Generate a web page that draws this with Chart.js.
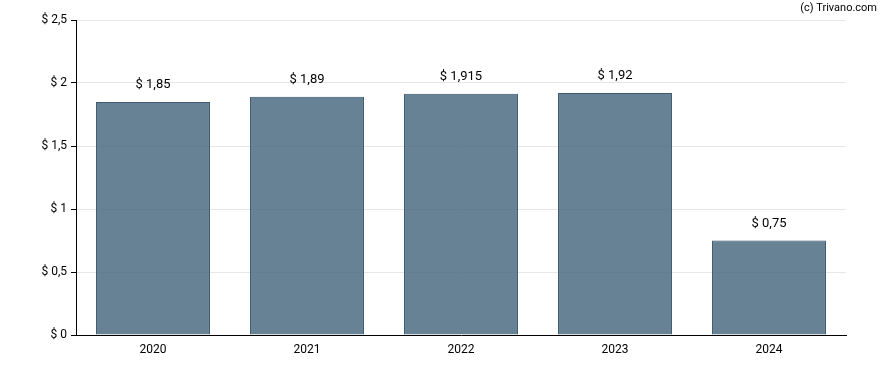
<!DOCTYPE html>
<html>
<head>
<meta charset="utf-8">
<script src="https://cdn.jsdelivr.net/npm/chart.js@4/dist/chart.umd.min.js"></script>
<style>
  html, body { margin: 0; padding: 0; background: #fff; }
  #wrap { width: 888px; height: 370px; position: relative; }
</style>
</head>
<body>
<div id="wrap"><canvas id="chart"></canvas></div>
<script>
// data
const years = ['2020', '2021', '2022', '2023', '2024'];
const dividends = [1.85, 1.89, 1.915, 1.92, 0.75];
const yTicks = [0, 0.5, 1, 1.5, 2, 2.5];

const fmt = v => '$ ' + String(v).replace('.', ',');

// value labels above the bars
const barLabels = {
  id: 'barLabels',
  afterDatasetsDraw(chart) {
    const ctx = chart.ctx;
    const meta = chart.getDatasetMeta(0);
    ctx.save();
    ctx.font = '13px Roboto';
    ctx.fillStyle = '#000';
    ctx.textAlign = 'center';
    ctx.textBaseline = 'middle';
    meta.data.forEach((bar, i) => {
      ctx.fillText(fmt(dividends[i]), bar.x, bar.y - 17);
    });
    ctx.restore();
  }
};

// copyright text top right
const credit = {
  id: 'credit',
  afterDraw(chart) {
    const ctx = chart.ctx;
    ctx.save();
    ctx.font = '11px Roboto';
    ctx.fillStyle = '#000';
    ctx.textAlign = 'right';
    ctx.textBaseline = 'middle';
    ctx.fillText('(c) Trivano.com', 877, 8);
    ctx.restore();
  }
};

new Chart(document.getElementById('chart'), {
  type: 'bar',
  data: {
    labels: years,
    datasets: [{
      data: dividends,
      backgroundColor: 'rgba(72, 105, 126, 0.83)',
      borderColor: '#3f5a6e',
      borderWidth: 1,
      barPercentage: 0.74,
      categoryPercentage: 1
    }]
  },
  options: {
    responsive: true,
    maintainAspectRatio: false,
    animation: false,
    layout: { padding: { top: 20, right: 42, left: 0, bottom: 0 } },
    plugins: { legend: { display: false }, tooltip: { enabled: false } },
    scales: {
      x: {
        grid: { display: false, drawOnChartArea: false, drawTicks: true, tickLength: 5, color: '#000' },
        border: { color: '#000', width: 1 },
        ticks: { color: '#000', font: { family: 'Roboto', size: 12 }, padding: 3 },
        afterFit(s) { s.height = 35; }
      },
      y: {
        min: 0,
        max: 2.5,
        afterBuildTicks(s) { s.ticks = yTicks.map(v => ({ value: v })); },
        grid: { color: '#e6e6e6', tickColor: '#000', tickLength: 5 },
        border: { color: '#000', width: 1 },
        ticks: { color: '#000', font: { family: 'Roboto', size: 12 }, padding: 4, callback: v => fmt(v) },
        afterFit(s) { s.width = 76; }
      }
    }
  },
  plugins: [barLabels, credit]
});
</script>
</body>
</html>
